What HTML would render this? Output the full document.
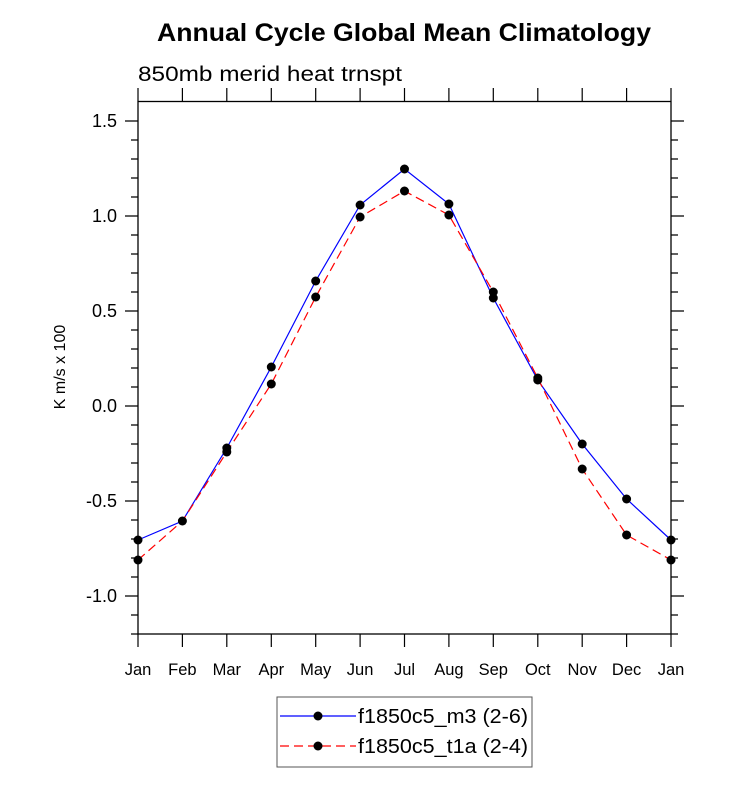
<!DOCTYPE html>
<html><head><style>body{margin:0;background:#fff}svg{display:block}text{font-family:"Liberation Sans",Arial,sans-serif}</style></head>
<body>
<svg width="733" height="789" viewBox="0 0 733 789">
<text x="157" y="41" font-size="25" font-weight="bold" textLength="494" lengthAdjust="spacingAndGlyphs">Annual Cycle Global Mean Climatology</text>
<text x="138" y="81" font-size="21" textLength="264" lengthAdjust="spacingAndGlyphs">850mb merid heat trnspt</text>
<rect x="138" y="101.5" width="533" height="532.5" fill="none" stroke="#000" stroke-width="1.3"/>
<g stroke="#000" stroke-width="1.2">
<path d="M125 121H138M125 216H138M125 311H138M125 406H138M125 501H138M125 596H138M671 121H684M671 216H684M671 311H684M671 406H684M671 501H684M671 596H684"/>
<path d="M131 140H138M131 159H138M131 178H138M131 197H138M131 235H138M131 254H138M131 273H138M131 292H138M131 330H138M131 349H138M131 368H138M131 387H138M131 425H138M131 444H138M131 463H138M131 482H138M131 520H138M131 539H138M131 558H138M131 577H138M131 615H138M131 634H138"/>
<path d="M671 140H678M671 159H678M671 178H678M671 197H678M671 235H678M671 254H678M671 273H678M671 292H678M671 330H678M671 349H678M671 368H678M671 387H678M671 425H678M671 444H678M671 463H678M671 482H678M671 520H678M671 539H678M671 558H678M671 577H678M671 615H678M671 634H678"/>
<path d="M138 88V101M182.4 88V101M226.8 88V101M271.3 88V101M315.7 88V101M360.1 88V101M404.5 88V101M448.9 88V101M493.3 88V101M537.8 88V101M582.2 88V101M626.6 88V101M671 88V101"/>
<path d="M138 634V647M182.4 634V647M226.8 634V647M271.3 634V647M315.7 634V647M360.1 634V647M404.5 634V647M448.9 634V647M493.3 634V647M537.8 634V647M582.2 634V647M626.6 634V647M671 634V647"/>
</g>
<g font-size="18" text-anchor="end">
<text x="117" y="127">1.5</text><text x="117" y="222">1.0</text><text x="117" y="317">0.5</text><text x="117" y="412">0.0</text><text x="117" y="507">-0.5</text><text x="117" y="602">-1.0</text>
</g>
<text transform="translate(65,367) rotate(-90)" font-size="16" text-anchor="middle">K m/s x 100</text>
<g font-size="16.5" text-anchor="middle">
<text x="138" y="675">Jan</text><text x="182.4" y="675">Feb</text><text x="226.8" y="675">Mar</text><text x="271.3" y="675">Apr</text><text x="315.7" y="675">May</text><text x="360.1" y="675">Jun</text><text x="404.5" y="675">Jul</text><text x="448.9" y="675">Aug</text><text x="493.3" y="675">Sep</text><text x="537.8" y="675">Oct</text><text x="582.2" y="675">Nov</text><text x="626.6" y="675">Dec</text><text x="671" y="675">Jan</text>
</g>
<polyline fill="none" stroke="#00f" stroke-width="1.2" points="138,540 182.4,521 226.8,448 271.3,367 315.7,281 360.1,205 404.5,169 448.9,204 493.3,298 537.8,380 582.2,444 626.6,499 671,540"/>
<polyline fill="none" stroke="#f00" stroke-width="1.2" stroke-dasharray="9,5" points="138,560 182.4,521 226.8,452 271.3,384 315.7,297 360.1,217 404.5,191 448.9,215 493.3,292 537.8,378 582.2,469 626.6,535 671,560"/>
<g fill="#000">
<circle cx="138" cy="540" r="4.5"/><circle cx="182.4" cy="521" r="4.5"/><circle cx="226.8" cy="448" r="4.5"/><circle cx="271.3" cy="367" r="4.5"/><circle cx="315.7" cy="281" r="4.5"/><circle cx="360.1" cy="205" r="4.5"/><circle cx="404.5" cy="169" r="4.5"/><circle cx="448.9" cy="204" r="4.5"/><circle cx="493.3" cy="298" r="4.5"/><circle cx="537.8" cy="380" r="4.5"/><circle cx="582.2" cy="444" r="4.5"/><circle cx="626.6" cy="499" r="4.5"/><circle cx="671" cy="540" r="4.5"/>
<circle cx="138" cy="560" r="4.5"/><circle cx="226.8" cy="452" r="4.5"/><circle cx="271.3" cy="384" r="4.5"/><circle cx="315.7" cy="297" r="4.5"/><circle cx="360.1" cy="217" r="4.5"/><circle cx="404.5" cy="191" r="4.5"/><circle cx="448.9" cy="215" r="4.5"/><circle cx="493.3" cy="292" r="4.5"/><circle cx="537.8" cy="378" r="4.5"/><circle cx="582.2" cy="469" r="4.5"/><circle cx="626.6" cy="535" r="4.5"/><circle cx="671" cy="560" r="4.5"/>
</g>
<rect x="277" y="697" width="255" height="70" fill="none" stroke="#555" stroke-width="1"/>
<line x1="280" y1="716" x2="356" y2="716" stroke="#00f" stroke-width="1.2"/>
<line x1="280" y1="746" x2="356" y2="746" stroke="#f00" stroke-width="1.2" stroke-dasharray="9,5"/>
<circle cx="318" cy="716" r="4.5"/><circle cx="318" cy="746" r="4.5"/>
<text x="358" y="723" font-size="20" textLength="170" lengthAdjust="spacingAndGlyphs">f1850c5_m3 (2-6)</text>
<text x="358" y="753" font-size="20" textLength="170" lengthAdjust="spacingAndGlyphs">f1850c5_t1a (2-4)</text>
</svg>
</body></html>
